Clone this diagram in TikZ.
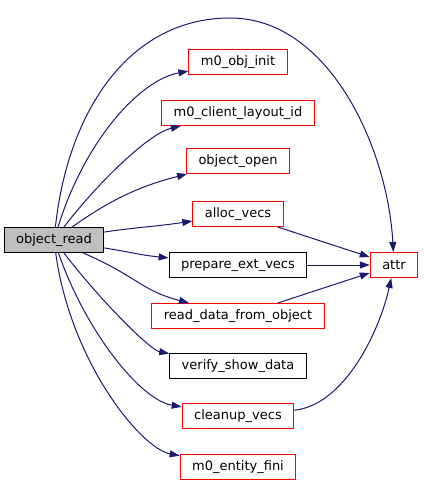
\documentclass[tikz,border=0pt]{standalone}
\usepackage{fontspec}
\setmainfont{DejaVu Sans}
\usepackage{tikz}
\usetikzlibrary{arrows.meta, positioning}
\definecolor{edgeblue}{HTML}{191970}
\definecolor{rootgray}{HTML}{BFBFBF}

\begin{document}
\begin{tikzpicture}[x=1pt, y=-1pt, >={Triangle[length=10pt, width=7pt]},
    fn/.style={draw=red, fill=white, line width=1pt, minimum height=25pt,
      inner xsep=12pt, font=\fontsize{13}{15}\selectfont},
    fnblack/.style={fn, draw=black},
    fnroot/.style={fn, draw=black, fill=rootgray},
    call/.style={->, edgeblue, line width=1pt}]
  \useasboundingbox (0,0) rectangle (423,487);
  % caller
  \node[fnroot] (read) at (54,240) {object\_read};
  % ---------------- callees ----------------
  \node[fn] (init) at (238,62) {m0\_obj\_init};
  \node[fn] (layout) at (238,113) {m0\_client\_layout\_id};
  \node[fn] (open) at (238,161) {object\_open};
  \node[fn] (alloc) at (238,214) {alloc\_vecs};
  \node[fnblack] (prepare) at (238,265) {prepare\_ext\_vecs};
  \node[fn] (readdata) at (238,316) {read\_data\_from\_object};
  \node[fnblack] (verify) at (238,366) {verify\_show\_data};
  \node[fn] (cleanup) at (238,416) {cleanup\_vecs};
  \node[fn] (fini) at (238,467) {m0\_entity\_fini};
  \node[fn] (attr) at (394,265) {attr};
  % ---------------- calls from object_read ----------------
  \coordinate (top) at (230,18);
  \draw[call] (read) .. controls (68,110) and (130,18) .. (top)
      .. controls (330,18) and (388,150) .. (attr);
  \draw[call] (read) .. controls (85,140) and (140,80) .. (init);
  \draw[call] (read) .. controls (100,180) and (150,133) .. (layout);
  \draw[call] (read) .. controls (110,200) and (140,186) .. (open);
  \draw[call] (read) .. controls (130,228) and (160,226) .. (alloc);
  \draw[call] (read) .. controls (130,252) and (140,255) .. (prepare);
  \draw[call] (read) .. controls (140,278) and (140,290) .. (readdata);
  \draw[call] (read) .. controls (100,300) and (150,350) .. (verify);
  \draw[call] (read) .. controls (85,330) and (140,400) .. (cleanup);
  \draw[call] (read) .. controls (70,360) and (140,448) .. (fini);
  % ---------------- calls to attr ----------------
  \draw[call] (alloc) -- (attr);
  \draw[call] (prepare) -- (attr);
  \draw[call] (readdata) -- (attr);
  \draw[call] (cleanup) .. controls (345,405) and (380,330) .. (attr);
\end{tikzpicture}
\end{document}
